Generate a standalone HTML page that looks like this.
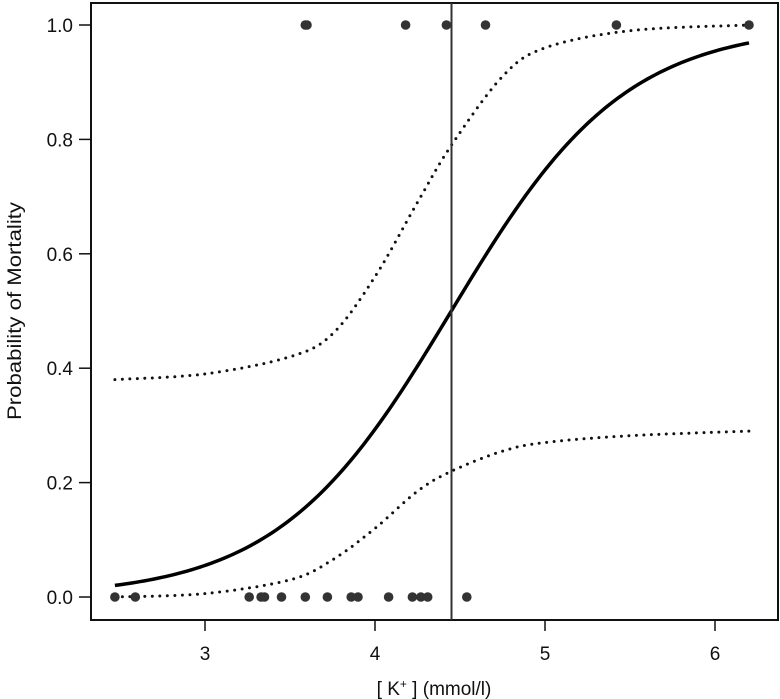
<!DOCTYPE html>
<html><head><meta charset="utf-8"><style>
html,body{margin:0;padding:0;background:#fff;}
svg{display:block;font-family:"Liberation Sans",Arial,sans-serif;}
</style></head><body>
<svg id="chart" width="780" height="699" viewBox="0 0 780 699" xmlns="http://www.w3.org/2000/svg"></svg>
<script>
const xTicks=[3,4,5,6];
const yTicks=[0,0.2,0.4,0.6,0.8,1.0];
const yTickLabels=["0.0","0.2","0.4","0.6","0.8","1.0"];
const deadK=[3.59,3.60,4.18,4.42,4.65,5.42,6.2];
const aliveK=[2.47,2.59,3.26,3.33,3.35,3.45,3.59,3.72,3.86,3.90,4.08,4.22,4.27,4.31,4.54];
const fitIntercept=-8.72;
const fitSlope=1.96;
const ciX=[2.47,3.0,3.5,3.75,4.0,4.25,4.45,4.75,5.0,5.5,6.2];
const ciUpper=[0.38,0.39,0.42,0.46,0.56,0.69,0.79,0.91,0.96,0.99,1.0];
const ciLower=[0.0,0.006,0.03,0.065,0.12,0.185,0.22,0.255,0.27,0.282,0.29];
const cutoffK=4.45;

const NS="http://www.w3.org/2000/svg";
const svg=document.getElementById('chart');
const X=v=>205+(v-3)*170;
const Y=v=>597-v*572;
function mk(tag,attrs,parent){const e=document.createElementNS(NS,tag);for(const k in attrs)e.setAttribute(k,attrs[k]);(parent||svg).appendChild(e);return e;}

const frame=mk('rect',{x:91,y:3,width:687,height:617,fill:'none',stroke:'#111','stroke-width':2});



xTicks.forEach(t=>{
  const l=mk('line',{x1:X(t),x2:X(t),y1:620,y2:631,stroke:'#111','stroke-width':1.5});
  
  
  const tx=mk('text',{x:X(t),y:660,'text-anchor':'middle','font-size':19,fill:'#111'});
  tx.textContent=t;
  
  
});
yTicks.forEach((t,i)=>{
  const l=mk('line',{x1:79,x2:91,y1:Y(t),y2:Y(t),stroke:'#111','stroke-width':1.5});
  
  
  const tx=mk('text',{x:73,y:Y(t)+7,'text-anchor':'end','font-size':19,fill:'#111'});
  tx.textContent=yTickLabels[i];
  
  
});

const yt=mk('text',{x:0,y:0,transform:'translate(21,311) rotate(-90)','text-anchor':'middle','font-size':19,textLength:218,lengthAdjust:'spacingAndGlyphs',fill:'#111'});
yt.textContent='Probability of Mortality';



const xt=mk('text',{x:434,y:695,'text-anchor':'middle','font-size':19,fill:'#111'});
xt.innerHTML='[ K<tspan dy="-7" font-size="12">+</tspan><tspan dy="7"> ] (mmol/l)</tspan>';



function smoothPath(xs,ys){
  const p=xs.map((x,i)=>[X(x),Y(ys[i])]);
  let d='M'+p[0][0]+','+p[0][1];
  for(let i=0;i<p.length-1;i++){
    const p0=p[Math.max(0,i-1)],p1=p[i],p2=p[i+1],p3=p[Math.min(p.length-1,i+2)];
    const c1=[p1[0]+(p2[0]-p0[0])/6,p1[1]+(p2[1]-p0[1])/6];
    const c2=[p2[0]-(p3[0]-p1[0])/6,p2[1]-(p3[1]-p1[1])/6];
    d+=' C'+c1[0]+','+c1[1]+' '+c2[0]+','+c2[1]+' '+p2[0]+','+p2[1];
  }
  return d;
}
const up=mk('path',{d:smoothPath(ciX,ciUpper),fill:'none',stroke:'#111','stroke-width':3,'stroke-linecap':'round','stroke-dasharray':'0 7.5'});


const lo=mk('path',{d:smoothPath(ciX,ciLower),fill:'none',stroke:'#111','stroke-width':3,'stroke-linecap':'round','stroke-dasharray':'0 7.5'});



let d='';
const x0=ciX[0],x1=ciX[ciX.length-1];
for(let i=0;i<=150;i++){const x=x0+(x1-x0)*i/150;const p=1/(1+Math.exp(-(fitIntercept+fitSlope*x)));d+=(i?'L':'M')+X(x).toFixed(2)+','+Y(p).toFixed(2);}
const fit=mk('path',{d:d,fill:'none',stroke:'#000','stroke-width':3.5});



const vl=mk('line',{x1:X(cutoffK),x2:X(cutoffK),y1:3,y2:620,stroke:'#333','stroke-width':2});



deadK.forEach(k=>{
  const c=mk('circle',{cx:X(k),cy:Y(1),r:4.8,fill:'#333'});
  
  
});
aliveK.forEach(k=>{
  const c=mk('circle',{cx:X(k),cy:Y(0),r:4.8,fill:'#333'});
  
  
});
</script>
</body></html>
